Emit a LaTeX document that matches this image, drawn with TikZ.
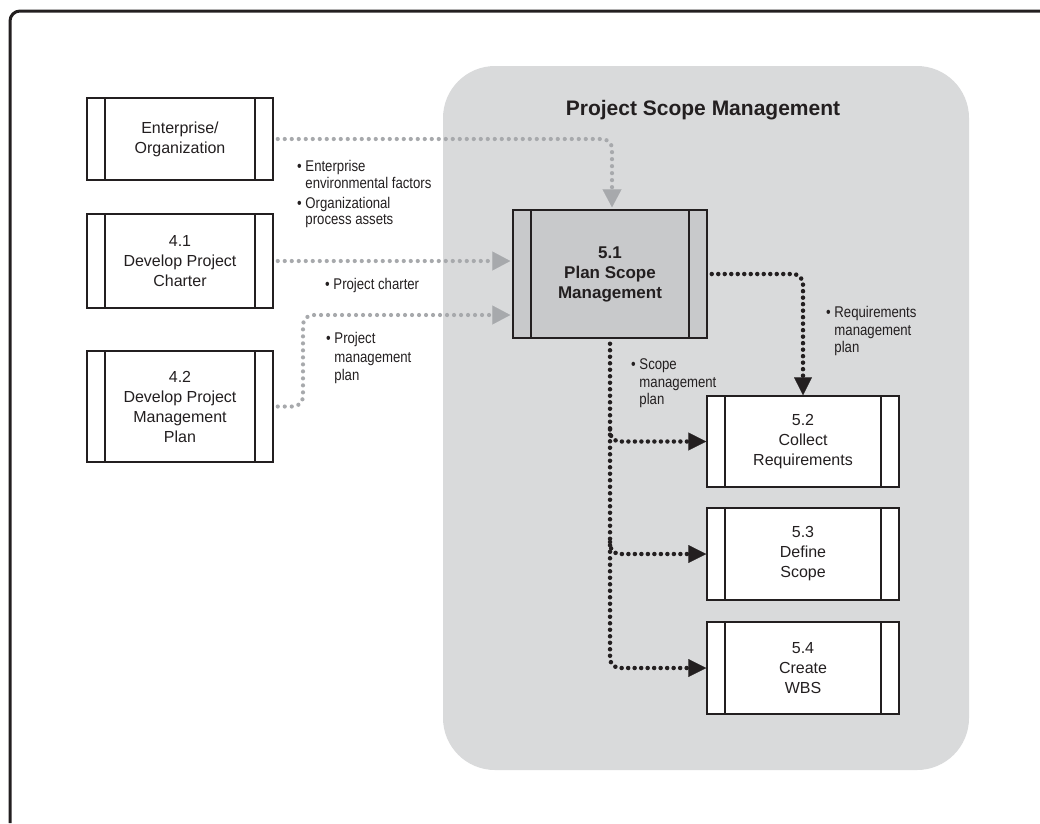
\documentclass[tikz,border=0pt]{standalone}
\usepackage{fontspec}
\setmainfont{Liberation Sans}
\newfontfamily\lblfont[FakeStretch=0.85]{Liberation Sans}
\usetikzlibrary{arrows.meta,calc}
\definecolor{ink}{HTML}{231F20}
\definecolor{regiongray}{HTML}{D9DADB}
\definecolor{boxgray}{HTML}{C8C9CB}
\definecolor{dotgray}{HTML}{A7A9AC}
\tikzset{
  procbox/.style={draw=ink, line width=1.5pt, fill=white, inner sep=0pt, align=center,
    text=ink, font=\fontsize{16}{20}\selectfont,
    path picture={\draw[ink,line width=1.5pt]
      ([xshift=18pt]path picture bounding box.north west) -- ([xshift=18pt]path picture bounding box.south west)
      ([xshift=-18pt]path picture bounding box.north east) -- ([xshift=-18pt]path picture bounding box.south east);}},
  lbl/.style={inner sep=0pt, anchor=base west, align=left, text=ink, font=\lblfont\fontsize{15.5}{17.5}\selectfont},
  graydot/.style={draw=dotgray, line width=4.2pt, line cap=round, dash pattern=on 0pt off 7pt,
    rounded corners=10pt, -{Triangle[length=18pt,width=19pt,line width=0.1pt]}},
  blackdot/.style={draw=ink, line width=4.5pt, line cap=round, dash pattern=on 0pt off 6.5pt,
    rounded corners=10pt, -{Triangle[length=18pt,width=18pt,line width=0.1pt]}}
}
\newcommand\bul{\textbullet\ }
\newcommand\nobul{\hphantom{\textbullet\ }}
\begin{document}
\begin{tikzpicture}[x=1pt,y=-1pt]
\useasboundingbox (0,0) rectangle (1040,823);
% outer frame (only top and left visible)
\draw[ink,line width=3pt,rounded corners=10pt] (10,823) -- (10,11) -- (1040,11);
% scope region
\fill[regiongray,rounded corners=52pt] (443,66) rectangle (969,770);
\node[text=ink,font=\bfseries\fontsize{21}{24}\selectfont,anchor=base,inner sep=0pt] (title) at (703,115) {Project Scope Management};

% left process boxes
\node[procbox,minimum width=186pt,minimum height=82pt] (ent) at (180,139) {Enterprise/\\Organization};
\node[procbox,minimum width=186pt,minimum height=94pt] (p41) at (180,261) {4.1\\Develop Project\\Charter};
\node[procbox,minimum width=186pt,minimum height=111pt] (p42) at (180,406.5) {4.2\\Develop Project\\Management\\Plan};

% central process
\node[procbox,fill=boxgray,minimum width=194pt,minimum height=128pt,font=\bfseries\fontsize{17}{20}\selectfont] (p51) at (610,274) {5.1\\Plan Scope\\Management};

% right process boxes
\node[procbox,minimum width=192pt,minimum height=91pt] (p52) at (803,441.5) {5.2\\Collect\\Requirements};
\node[procbox,minimum width=192pt,minimum height=92pt] (p53) at (803,554) {5.3\\Define\\Scope};
\node[procbox,minimum width=192pt,minimum height=92pt] (p54) at (803,668) {5.4\\Create\\WBS};

% gray inputs
\draw[graydot,shorten >=2pt] ([xshift=4pt]ent.east) -| ([xshift=2pt]p51.north);
\draw[graydot,shorten >=2pt] ([xshift=4pt]p41.east) -- (p41.east -| p51.west);
\coordinate (b42) at (303,315);
\draw[graydot,shorten >=2pt] ([xshift=4pt]p42.east) -| (b42) -- (b42 -| p51.west);

% black outputs
\draw[blackdot] ([xshift=4pt]p51.east) -| (p52.north);
\draw[blackdot] ([yshift=-5pt]p51.south) |- (p54.west);
\draw[blackdot] ($(p51.south|-p52.west)+(0,-12)$) |- (p52.west);
\draw[blackdot] ($(p51.south|-p53.west)+(0,-12)$) |- (p53.west);

% labels (anchored at the baseline of their last line)
\node[lbl,font=\lblfont\fontsize{15.5}{16.5}\selectfont] (lent) at (297,224.5)
  {\bul Enterprise\\\nobul environmental factors\\[3.5pt]\bul Organizational\\\nobul process assets};
\node[lbl] (lch) at (325,289.5) {\bul Project charter};
\node[lbl,font=\lblfont\fontsize{15.5}{18.5}\selectfont] (lpmp) at (326,380.5) {\bul Project\\\nobul management\\\nobul plan};
\node[lbl] (lsmp) at (631,404.5) {\bul Scope\\\nobul management\\\nobul plan};
\node[lbl] (lrmp) at (826,352.5) {\bul Requirements\\\nobul management\\\nobul plan};
\end{tikzpicture}
\end{document}
